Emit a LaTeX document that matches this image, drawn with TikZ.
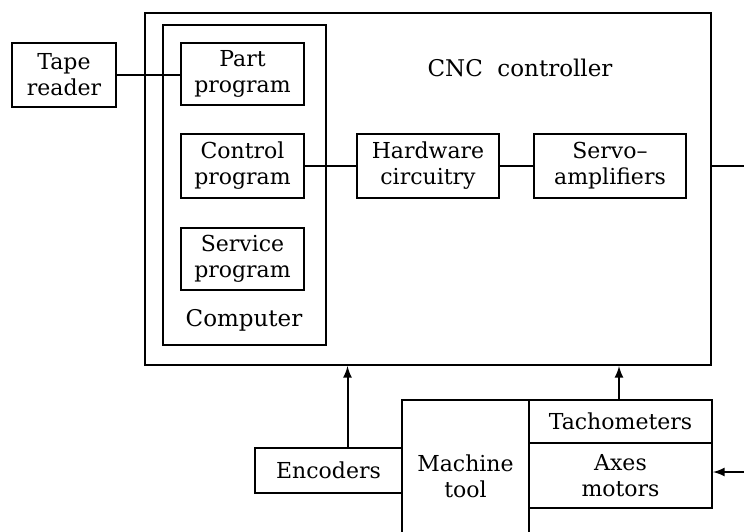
\documentclass[tikz,border=0pt]{standalone}
\usepackage{fontspec}
\setmainfont{DejaVu Serif}
\tikzset{
  blk/.style={draw, line width=1pt, align=center, inner sep=2pt, font=\fontsize{11}{13}\selectfont},
  lbl/.style={font=\fontsize{11.5}{13}\selectfont},
}
\begin{document}
\begin{tikzpicture}[x=0.5pt, y=-0.5pt, line width=1pt, >=latex]
        \useasboundingbox (0,0) rectangle (744,531);
        \clip (0,0) rectangle (744,531);
        % controller and computer frames
        \node[blk, minimum width=283pt, minimum height=176pt] (cnc) at (428,189) {};
        \node[blk, minimum width=81.5pt, minimum height=160pt] (comp) at (244.5,185) {};
        \node[lbl] (cnclbl) at (520,68) {CNC\ \ controller};
        \node[lbl] (complbl) at (244,320) {Computer};
        % blocks inside
        \node[blk, minimum width=52pt, minimum height=32pt] (tape) at (64,75) {Tape\\reader};
        \node[blk, minimum width=61.5pt, minimum height=31pt] (part) at (242.5,74) {Part\\program};
        \node[blk, minimum width=61.5pt, minimum height=32pt] (ctrl) at (242.5,166) {Control\\program};
        \node[blk, minimum width=61.5pt, minimum height=31pt] (serv) at (242.5,259) {Service\\program};
        \node[blk, minimum width=71pt, minimum height=32pt] (hard) at (428,166) {Hardware\\circuitry};
        \node[blk, minimum width=76pt, minimum height=32pt] (servo) at (610,166) {Servo--\\amplifiers};
        % machine side
        \node[blk, minimum width=63.5pt, minimum height=76pt] (mach) at (465.5,476) {Machine\\tool};
        \node[blk, minimum width=91.5pt, minimum height=21.5pt] (tacho) at (620.5,421.5) {Tachometers};
        \node[blk, minimum width=91.5pt, minimum height=32.5pt] (axes) at (620.5,475.5) {Axes\\motors};
        \node[blk, minimum width=73.5pt, minimum height=22.5pt] (enc) at (328.5,470.5) {Encoders};
        \coordinate (redge) at (744,166);
        \coordinate (rdown) at (744,472);
        % connections
        \draw (tape.east) -- (tape.east -| part.west);
        \draw (ctrl.east) -- (hard.west);
        \draw (hard.east) -- (servo.west);
        \draw (servo.east -| cnc.east) -- (redge);
        \draw[->] (rdown) -- (rdown -| axes.east);
        \draw[->] ([xshift=9.5pt]enc.north) -- ([xshift=9.5pt]enc.north |- cnc.south);
        \draw[->] ([xshift=-0.75pt]tacho.north) -- ([xshift=-0.75pt]tacho.north |- cnc.south);
\end{tikzpicture}
\end{document}
